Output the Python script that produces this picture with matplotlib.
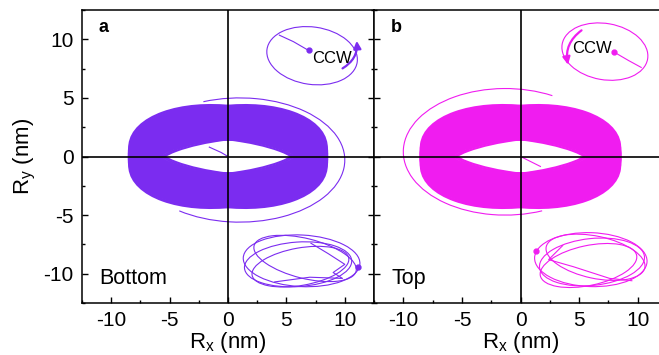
import numpy as np
import matplotlib
matplotlib.use("Agg")
import matplotlib.pyplot as plt
from matplotlib.patches import Ellipse, Arc
from matplotlib.ticker import MultipleLocator

plt.rcParams['font.family'] = ['Liberation Sans', 'DejaVu Sans']
plt.rcParams['axes.unicode_minus'] = False

PURPLE = '#7b2cf0'
MAGENTA = '#f01cf0'

# main ring: orbit semi-axes (nm) and tilt families (deg)
bot_ring_a = [6.1, 6.25, 6.4, 6.55, 6.7, 6.85, 7.0, 7.15, 7.3, 7.45,
              7.6, 7.75, 7.9, 8.05, 8.2, 8.3, 8.4, 8.5]
bot_ring_b = [1.45, 1.6, 1.8, 1.95, 2.15, 2.3, 2.5, 2.65, 2.85, 3.0,
              3.2, 3.35, 3.55, 3.7, 3.9, 4.05, 4.2, 4.3]
bot_ring_tilt = [-7, -3.5, 0, 3.5, 7]

top_ring_a = [6.15, 6.3, 6.45, 6.6, 6.75, 6.9, 7.05, 7.2, 7.35, 7.5,
              7.65, 7.8, 7.95, 8.1, 8.25, 8.35, 8.45, 8.55]
top_ring_b = [1.45, 1.6, 1.8, 1.95, 2.15, 2.3, 2.5, 2.65, 2.85, 3.0,
              3.2, 3.35, 3.55, 3.7, 3.9, 4.05, 4.2, 4.3]
top_ring_tilt = [-7, -3.5, 0, 3.5, 7]

# stray outer loop: center, semi-axes, start/end angle
bot_loop = dict(cx=1.0, cy=-0.3, a=9.0, b=5.3, t1=-140, t2=122)
top_loop = dict(cx=-1.3, cy=0.4, a=8.7, b=5.4, t1=50, t2=302)

# start segment inside the hole
bot_start_x = [-1.6, -0.6, 0.0]
bot_start_y = [0.8, 0.35, 0.0]
top_start_x = [0.0, 0.8, 1.7]
top_start_y = [0.0, -0.4, -0.85]

# upper insets: loop, tail to the start dot, arrow
bot_ins_loop = dict(cx=7.2, cy=8.6, a=3.9, b=2.45, ang=-8)
bot_tail_x = [6.9, 5.6, 4.4]
bot_tail_y = [9.05, 9.8, 10.35]
bot_arrow = [(9.6, 7.4), (11.0, 10.1)]
bot_arrow_rad = 0.35
bot_ccw = (8.9, 8.4)

top_ins_loop = dict(cx=7.2, cy=8.95, a=3.7, b=2.4, ang=-10)
top_tail_x = [8.0, 9.2, 10.3]
top_tail_y = [8.9, 8.2, 7.6]
top_arrow = [(5.4, 10.9), (4.1, 7.6)]
top_arrow_rad = 0.35
top_ccw = (6.1, 9.25)

# lower insets: tangled loops (cx, cy, a, b, angle)
bot_tangle = [(6.3, -8.9, 5.0, 2.2, -3),
              (6.0, -9.2, 4.6, 1.9, 4),
              (6.6, -8.7, 4.5, 1.7, -14),
              (6.2, -9.4, 4.2, 1.6, 10)]
bot_z_x = [7.1, 8.6, 10.0, 9.0, 9.8, 7.0, 4.0]
bot_z_y = [-7.4, -8.3, -9.2, -9.9, -10.4, -10.3, -10.7]
bot_dot = (11.1, -9.4)

top_tangle = [(6.0, -8.8, 4.8, 2.3, -2),
              (6.1, -9.0, 4.5, 2.0, 6),
              (6.4, -8.6, 4.3, 1.8, -12),
              (5.8, -9.3, 4.2, 1.7, 12)]
top_z_x = [3.6, 2.4, 4.5, 7.6, 9.5]
top_z_y = [-7.6, -8.8, -9.4, -10.4, -10.6]
top_dot = (1.3, -8.1)

xticks = [-10, -5, 0, 5, 10]
yticks = [-10, -5, 0, 5, 10]


def draw_panel(ax, c, ring_a, ring_b, ring_tilt, loop, sx, sy,
               ins, tx, ty, arrow, rad, ccw, tangle, zx, zy, dot, letter, name):
    for tilt in ring_tilt:
        for a, b in zip(ring_a, ring_b):
            ax.add_patch(Ellipse((0, 0), 2 * a, 2 * b, angle=tilt, fill=False,
                                 ec=c, lw=1.5))
    ax.add_patch(Arc((loop['cx'], loop['cy']), 2 * loop['a'], 2 * loop['b'],
                     theta1=loop['t1'], theta2=loop['t2'], ec=c, lw=0.8))
    ax.plot(sx, sy, color=c, lw=0.8)

    ax.add_patch(Ellipse((ins['cx'], ins['cy']), 2 * ins['a'], 2 * ins['b'],
                         angle=ins['ang'], fill=False, ec=c, lw=0.8))
    ax.plot(tx, ty, color=c, lw=0.8)
    ax.plot(tx[0], ty[0], 'o', color=c, ms=3.5)
    ax.annotate('', xy=arrow[1], xytext=arrow[0],
                arrowprops=dict(arrowstyle='-|>', color=c, lw=1.6,
                                mutation_scale=11,
                                connectionstyle='arc3,rad=%.2f' % rad))
    ax.text(ccw[0], ccw[1], 'CCW', ha='center', va='center', fontsize=12)

    for cx, cy, a, b, ang in tangle:
        ax.add_patch(Ellipse((cx, cy), 2 * a, 2 * b, angle=ang, fill=False,
                             ec=c, lw=0.8))
    ax.plot(zx, zy, color=c, lw=0.8)
    ax.plot(dot[0], dot[1], 'o', color=c, ms=3.5)

    ax.axhline(0, color='black', lw=1.2, zorder=5)
    ax.axvline(0, color='black', lw=1.2, zorder=5)

    ax.set_xlim(-12.5, 12.5)
    ax.set_ylim(-12.5, 12.5)
    ax.set_xticks(xticks)
    ax.set_yticks(yticks)
    ax.xaxis.set_minor_locator(MultipleLocator(2.5))
    ax.yaxis.set_minor_locator(MultipleLocator(2.5))
    ax.tick_params(which='both', direction='in', top=False, width=1.0,
                   labelsize=15, pad=6)
    ax.tick_params(which='major', length=4.5)
    ax.tick_params(which='minor', length=2.5)
    for s in ax.spines.values():
        s.set_linewidth(1.1)
    ax.set_xlabel('R$_\\mathregular{x}$ (nm)', fontsize=16, labelpad=0)
    ax.text(-11.1, 11.0, letter, fontsize=13, fontweight='bold',
            ha='left', va='center')
    ax.text(-11.0, -10.4, name, fontsize=15.5, ha='left', va='center')


fig = plt.figure(figsize=(6.59, 3.55), dpi=100)
ax1 = fig.add_axes([82 / 659, 52 / 355, 292 / 659, 293 / 355])
ax2 = fig.add_axes([374 / 659, 52 / 355, 293 / 659, 293 / 355])

draw_panel(ax1, PURPLE, bot_ring_a, bot_ring_b, bot_ring_tilt, bot_loop,
           bot_start_x, bot_start_y, bot_ins_loop, bot_tail_x, bot_tail_y,
           bot_arrow, bot_arrow_rad, bot_ccw, bot_tangle, bot_z_x, bot_z_y,
           bot_dot, 'a', 'Bottom')
draw_panel(ax2, MAGENTA, top_ring_a, top_ring_b, top_ring_tilt, top_loop,
           top_start_x, top_start_y, top_ins_loop, top_tail_x, top_tail_y,
           top_arrow, top_arrow_rad, top_ccw, top_tangle, top_z_x, top_z_y,
           top_dot, 'b', 'Top')

ax1.tick_params(which='both', right=True)
ax1.set_ylabel('R$_\\mathregular{y}$ (nm)', fontsize=16, labelpad=4)
ax2.tick_params(which='both', right=False, labelleft=False)

fig.savefig('out.png', dpi=100)
